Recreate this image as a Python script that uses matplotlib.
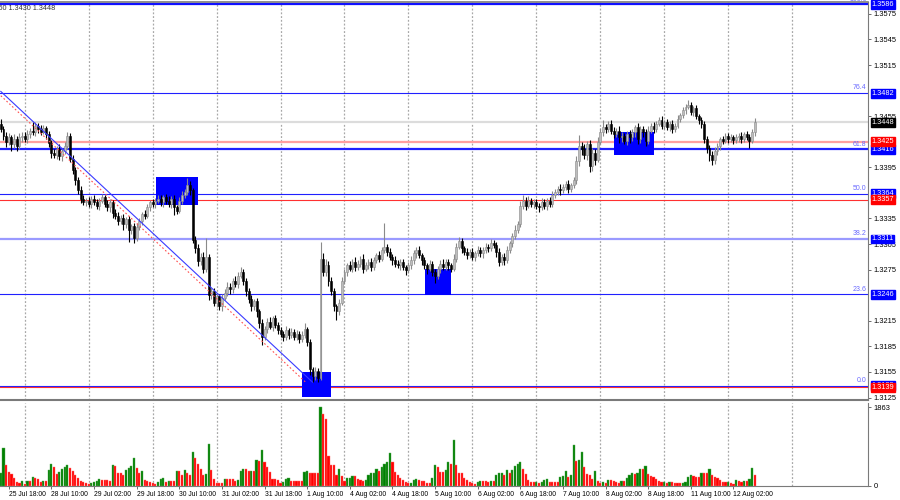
import numpy as np
import matplotlib.pyplot as plt
from matplotlib.patches import Rectangle
import matplotlib.transforms as mtrans

plt.rcParams['font.family'] = ['Liberation Sans', 'DejaVu Sans']

# ---- data (prices in 1e-4 units, e.g. 3440 -> 1.3440; hourly bars, first bar = 25 Jul 15:00) ----
first_open = 3446
close_pips = [
    # 25 Jul 15:00-23:00
    3440, 3432, 3425, 3430, 3422, 3428, 3420, 3430, 3432,
    # 28 Jul
    3428, 3434, 3438, 3436, 3444, 3440, 3437, 3441, 3434,
    3424, 3412, 3410, 3416, 3408, 3414, 3420, 3432,
    3405, 3392, 3380, 3368, 3358, 3354, 3356,
    # 29 Jul
    3352, 3358, 3354, 3350, 3356, 3360, 3352, 3348, 3354,
    3342, 3338, 3332, 3336, 3328, 3334, 3322, 3326, 3312,
    3325, 3332, 3340, 3338, 3348, 3354,
    # 30 Jul
    3352, 3356, 3358, 3354, 3360, 3356, 3352, 3358, 3348, 3344,
    3356, 3362, 3366, 3374, 3368, 3310,
    3300, 3285, 3290, 3276, 3290, 3245,
    3250, 3236,
    # 31 Jul
    3244, 3232, 3242,
    3248, 3255, 3252, 3262, 3258, 3268, 3272,
    3262, 3250, 3240, 3232, 3238,
    3226, 3212, 3196, 3205,
    3214, 3208, 3218, 3210, 3204,
    # 1 Aug
    3200, 3196, 3204, 3198, 3202, 3196, 3200, 3194, 3198, 3205, 3190,
    3158, 3150, 3156, 3148,
    3288,
    3272, 3280, 3262, 3250,
    3232, 3226, 3236,
    3262,
    # 4 Aug
    3272, 3280, 3276, 3284, 3278, 3282, 3288, 3276, 3280, 3284, 3278, 3286, 3292, 3288,
    3298, 3302, 3296,
    3290, 3286, 3282, 3280, 3284, 3278, 3274,
    # 5 Aug
    3280, 3286,
    3294, 3298, 3292,
    3286, 3280, 3276, 3282, 3272, 3268, 3276, 3282, 3278, 3284, 3280, 3276, 3288,
    3302, 3308, 3300, 3296,
    3292, 3296,
    # 6 Aug
    3290, 3294, 3298, 3294, 3298, 3302, 3300,
    3306, 3304, 3296,
    3284, 3290, 3286, 3298,
    3306, 3314, 3322, 3328, 3350,
    3356, 3350, 3356, 3352, 3354,
    # 7 Aug
    3350, 3348, 3354, 3350, 3356, 3352, 3362,
    3366, 3370, 3368, 3372, 3376, 3370, 3374,
    3380, 3402, 3420, 3416,
    3410, 3422, 3396, 3412, 3404, 3425,
    # 8 Aug
    3436, 3442, 3440, 3446, 3438,
    3434, 3438, 3430, 3432, 3426, 3434, 3430,
    3436, 3442, 3428, 3440, 3436, 3426, 3438, 3444, 3440,
    3446, 3450, 3444,
    # 11 Aug
    3448, 3442, 3446, 3440, 3444, 3452,
    3456, 3462, 3466, 3468, 3460, 3464, 3455, 3450, 3446,
    3428, 3418, 3410, 3404, 3414,
    3420, 3428, 3426, 3432,
    # 12 Aug
    3428, 3430, 3427,
    3430, 3432, 3428, 3434, 3431, 3426,
    3436, 3448,
]
wick_up = [
    6, 3, 4, 5, 3, 6, 4, 5, 4,
    4, 5, 3, 10, 4, 3, 5, 4, 3, 4, 3, 5, 4, 6, 4, 5, 5, 3, 4, 3, 4, 5, 4, 3,
    4, 3, 5, 4, 3, 4, 3, 5, 4, 3, 4, 5, 3, 4, 3, 4, 3, 4, 5, 4, 3, 5, 4, 3,
    4, 3, 5, 4, 3, 4, 5, 3, 4, 3, 4, 5, 4, 9, 5, 3, 4, 5, 4, 6, 22, 3, 4, 3,
    4, 3, 5, 4, 5, 4, 3, 5, 4, 6, 4, 3, 4, 5, 3, 4, 3, 5, 4, 4, 5, 3, 4, 3,
    4, 3, 5, 3, 4, 3, 4, 3, 5, 7, 3, 4, 3, 5, 4, 19, 6, 8, 5, 4, 4, 3, 5, 4,
    4, 3, 5, 4, 6, 4, 3, 5, 4, 3, 5, 4, 3, 5, 4, 28, 3, 4, 3, 5, 4, 3, 4, 3,
    4, 5, 4, 3, 5, 3, 4, 3, 4, 3, 4, 3, 4, 5, 3, 4, 3, 5, 4, 5, 4, 3, 4, 3,
    4, 3, 5, 4, 3, 4, 3, 5, 4, 3, 4, 3, 4, 5, 3, 4, 5, 4, 5, 6, 4, 5, 3, 4,
    4, 3, 5, 4, 3, 4, 5, 4, 3, 5, 4, 3, 4, 3, 4, 6, 13, 5, 6, 4, 5, 6, 4, 5,
    5, 9, 4, 3, 4, 4, 3, 5, 4, 3, 4, 5, 4, 3, 5, 4, 3, 4, 5, 3, 4, 3, 4, 5,
    3, 4, 3, 4, 3, 4, 3, 4, 3, 6, 4, 3, 4, 3, 4, 3, 4, 3, 4, 5, 4, 3, 4, 3,
    3, 4, 3, 4, 3, 4, 3, 4, 3, 4, 5,
]
wick_dn = [
    3, 5, 6, 4, 8, 4, 6, 3, 5,
    3, 4, 5, 3, 4, 5, 4, 3, 6, 5, 6, 4, 5, 4, 6, 3, 4, 4, 5, 6, 4, 5, 3, 4,
    4, 5, 3, 4, 5, 3, 4, 4, 5, 6, 4, 5, 4, 6, 4, 15, 5, 6, 4, 3, 5, 4, 3, 4,
    4, 5, 3, 4, 5, 4, 3, 5, 9, 4, 3, 4, 3, 4, 5, 4, 5, 6, 4, 5, 4, 6, 5, 4,
    5, 4, 6, 3, 4, 5, 4, 3, 4, 3, 5, 6, 4, 5, 4, 6, 5, 9, 4, 4, 3, 5, 4, 5,
    4, 5, 3, 4, 3, 4, 3, 5, 4, 3, 5, 6, 7, 4, 5, 3, 5, 4, 6, 5, 6, 10, 4, 3,
    4, 5, 3, 4, 5, 3, 4, 5, 3, 4, 5, 4, 3, 4, 3, 4, 5, 4, 5, 4, 3, 5, 4, 5,
    3, 4, 4, 5, 3, 5, 4, 6, 3, 5, 9, 4, 5, 3, 4, 5, 4, 3, 4, 3, 5, 4, 5, 3,
    4, 5, 3, 4, 5, 3, 4, 3, 4, 6, 5, 4, 5, 3, 4, 5, 3, 4, 3, 4, 5, 3, 4, 5,
    4, 5, 3, 4, 5, 3, 4, 3, 4, 5, 3, 4, 5, 4, 3, 4, 5, 6, 5, 6, 6, 5, 6, 3,
    3, 4, 5, 3, 4, 5, 4, 6, 5, 4, 5, 6, 4, 5, 6, 4, 5, 6, 4, 3, 5, 4, 3, 4,
    4, 3, 4, 5, 4, 3, 4, 3, 4, 3, 4, 5, 3, 4, 5, 5, 6, 7, 6, 5, 4, 5, 4, 3,
    4, 3, 5, 4, 5, 4, 3, 4, 8, 3, 4,
]
volume = [
    300, 904, 496, 338, 283, 181, 102, 79, 118,
    47, 118, 118, 205, 181, 157, 102, 118, 118, 378, 512, 441, 283, 338, 394, 457,
    496, 433, 346, 268, 181, 126, 87, 79,
    47, 63, 87, 126, 157, 134, 134, 134, 126, 496, 473, 315, 315, 252, 378, 417,
    473, 653, 417, 307, 362, 142, 126, 102,
    79, 47, 94, 157, 181, 87, 126, 126, 126, 346, 346, 260, 378, 307, 260, 802,
    653, 519, 394, 268, 283, 991, 378, 157,
    79, 79, 63, 173, 173, 157, 157, 126, 142, 362, 394, 394, 346, 362, 362, 614,
    590, 850, 574, 441, 330, 157, 157, 142,
    79, 102, 157, 181, 126, 126, 126, 126, 126, 338, 354, 315, 315, 315, 307, 1863,
    1699, 1574, 708, 488, 488, 252, 394, 236,
    126, 181, 200, 236, 236, 157, 142, 126, 142, 260, 307, 315, 394, 346, 441, 519,
    574, 787, 574, 338, 260, 181, 142, 102,
    63, 79, 142, 157, 142, 126, 126, 79, 79, 181, 496, 441, 338, 338, 378, 574,
    519, 1086, 496, 315, 315, 181, 142, 102,
    63, 47, 94, 126, 126, 110, 94, 126, 126, 252, 307, 315, 252, 378, 315, 378,
    473, 519, 574, 409, 283, 142, 102, 94,
    102, 79, 102, 142, 157, 94, 94, 94, 94, 220, 236, 354, 205, 260, 968, 598,
    614, 802, 457, 283, 252, 157, 354, 126,
    79, 102, 63, 142, 142, 110, 94, 79, 126, 126, 181, 260, 315, 283, 307, 409,
    409, 473, 283, 236, 205, 173, 126, 94,
    102, 63, 102, 102, 79, 63, 63, 79, 102, 205, 260, 236, 205, 205, 315, 315,
    315, 409, 268, 220, 181, 142, 94, 94,
    102, 63, 47, 142, 126, 94, 110, 110, 157, 425, 252,
]

# time axis: bar index 0 = 25 Jul 18:00
date_ticks = list(range(0, 273, 16))
date_labels = ['25 Jul 18:00', '28 Jul 10:00', '29 Jul 02:00', '29 Jul 18:00',
               '30 Jul 10:00', '31 Jul 02:00', '31 Jul 18:00', '1 Aug 10:00',
               '4 Aug 02:00', '4 Aug 18:00', '5 Aug 10:00', '6 Aug 02:00',
               '6 Aug 18:00', '7 Aug 10:00', '8 Aug 02:00', '8 Aug 18:00',
               '11 Aug 10:00', '12 Aug 02:00']
day_starts = list(range(6, 295, 24))

# fibonacci levels and horizontal lines
fib_levels = [1.3586, 1.3482, 1.3416, 1.3364, 1.3311, 1.3246, 1.3139]
fib_names = ['100.0', '76.4', '61.8', '50.0', '38.2', '23.6', '0.0']
red_levels = [1.3425, 1.3357, 1.3137]
red_labels = ['1.3425', '1.3357', '1.3139']
bid = 1.3448
# zones (bar start, bar end, price low, price high)
zones = [(55.1, 71.2, 1.3351, 1.3384), (110.2, 121.1, 1.3126, 1.3155),
         (156.4, 166.1, 1.3245, 1.3276), (227.2, 242.2, 1.3410, 1.3437)]
# trend line (bar, price)
trend_blue = [(-3.0, 1.3484), (114.0, 1.3143)]
trend_red = [(-3.0, 1.3479), (111.4, 1.3143)]
price_ticks = [1.3125, 1.3155, 1.3185, 1.3215, 1.3275, 1.3305, 1.3335,
               1.3395, 1.3455, 1.3515, 1.3545, 1.3575]

# ---- derived ----
c = 1.0 + np.array(close_pips) * 1e-4
o = np.r_[1.0 + first_open * 1e-4, c[:-1]]
hi = np.maximum(o, c) + np.array(wick_up) * 1e-4
lo = np.minimum(o, c) - np.array(wick_dn) * 1e-4
x = np.arange(len(c)) - 3
vol = np.array(volume, dtype=float)
xv = np.arange(len(vol)) - 3

fig = plt.figure(figsize=(9, 5), dpi=100)
ax = fig.add_axes([0.0, 0.2, 868 / 900, 0.796])
axv = fig.add_axes([0.0, 0.028, 868 / 900, 0.166])

XLIM = (-3.3, 322.5)
for a in (ax, axv):
    a.set_xlim(*XLIM)
    for d in day_starts:
        a.axvline(d, color='#a8a8a8', lw=0.9, ls=(0, (1.5, 1.5)), zorder=0)
    a.spines['left'].set_visible(False)
    for s in ('top', 'bottom', 'right'):
        a.spines[s].set_color('#7a7a7a')
    a.yaxis.tick_right()
    a.tick_params(axis='y', labelsize=5.4, length=2, width=0.6, pad=2, color='#555555')

ax.set_ylim(1.31221, 1.35889)
ax.spines['bottom'].set_linewidth(1.5)
ax.spines['top'].set_linewidth(1.2)
ax.set_xticks([])
ax.set_yticks(price_ticks)
ax.set_yticklabels(['%.4f' % p for p in price_ticks])

# horizontal levels
fib_lw = [1.6, 0.8, 1.6, 0.8, 1.6, 0.8, 0.8]
fib_col = ['#1010ff', '#2020ff', '#2020ff', '#2020ff', '#9a9aff', '#2020ff', '#2020ff']
for lvl, lw_, col in zip(fib_levels, fib_lw, fib_col):
    ax.axhline(lvl, color=col, lw=lw_, zorder=1)
ax.axhline(red_levels[0], color='#ffa0a0', lw=1.6, zorder=1)
ax.axhline(red_levels[1], color='#ff3030', lw=0.8, zorder=1)
ax.axhline(red_levels[2], color='#ff3030', lw=0.8, zorder=1)
ax.axhline(bid, color='#dcdcdc', lw=1.6, zorder=1)

for x0, x1, p0, p1 in zones:
    ax.add_patch(Rectangle((x0, p0), x1 - x0, p1 - p0, color='#0000ff', lw=0, zorder=2))

# trend lines
ax.plot(*zip(*trend_blue), color='#3a3aff', lw=0.8, zorder=5)
ax.plot(*zip(*trend_red), color='#ff5050', lw=0.8, ls=(0, (1.5, 2)), zorder=5)

# candles
bull = c >= o
body = np.maximum(np.abs(c - o), 0.4e-4)
ax.vlines(x[bull], lo[bull], hi[bull], color='#8a8a8a', lw=0.8, zorder=3)
ax.vlines(x[~bull], lo[~bull], hi[~bull], color='black', lw=0.8, zorder=3)
ax.bar(x[bull], body[bull], bottom=o[bull], width=0.72, color='#bdbdbd',
       edgecolor='#8a8a8a', lw=0.4, zorder=4)
ax.bar(x[~bull], body[~bull], bottom=c[~bull], width=0.72, color='black',
       edgecolor='black', lw=0.4, zorder=4)

# right-side price boxes
trans = mtrans.blended_transform_factory(ax.transAxes, ax.transData)
fs = 5.3
box = 'square,pad=0.12'
for lvl in fib_levels:
    ax.text(1.004, lvl, '%.4f' % lvl, transform=trans, fontsize=fs, color='white',
            va='center', ha='left', zorder=10, clip_on=False,
            bbox=dict(boxstyle=box, fc='#0000ff', ec='#0000ff'))
for lvl, lab in zip(red_levels, red_labels):
    ax.text(1.004, lvl, lab, transform=trans, fontsize=fs, color='white',
            va='center', ha='left', zorder=10, clip_on=False,
            bbox=dict(boxstyle=box, fc='#ff0000', ec='#ff0000'))
ax.text(1.004, bid, '%.4f' % bid, transform=trans, fontsize=fs, color='white',
        va='center', ha='left', zorder=10, clip_on=False,
        bbox=dict(boxstyle=box, fc='black', ec='black'))

# fibonacci level names
for lvl, name in zip(fib_levels, fib_names):
    ax.text(0.9985, lvl + 0.0002, name, transform=trans, fontsize=5, color='#6a6aff',
            ha='right', va='bottom', zorder=6)

# header text
fig.text(55 / 900, 1 - 8 / 500, 'GBPUSD,H1  1.3440 1.3450 1.3430 1.3448',
         fontsize=5.2, color='#333333', ha='right', va='center')

# volumes
up = np.r_[True, vol[1:] > vol[:-1]]
axv.bar(xv[up], vol[up], width=0.8, color='#008000', edgecolor='#55aa55', lw=0.3, zorder=3)
axv.bar(xv[~up], vol[~up], width=0.8, color='#ff0000', edgecolor='#ff7070', lw=0.3, zorder=3)
axv.set_ylim(0, vol.max() * 83 / 79)
axv.set_yticks([0, vol.max()])
axv.set_yticklabels(['0', '%d' % vol.max()])
axv.spines['top'].set_visible(False)
axv.set_xticks(date_ticks)
axv.set_xticklabels(date_labels, ha='left')
axv.tick_params(axis='x', labelsize=4.9, length=2, width=0.6, pad=1.5, color='#555555')

fig.savefig('out.png', dpi=100)
